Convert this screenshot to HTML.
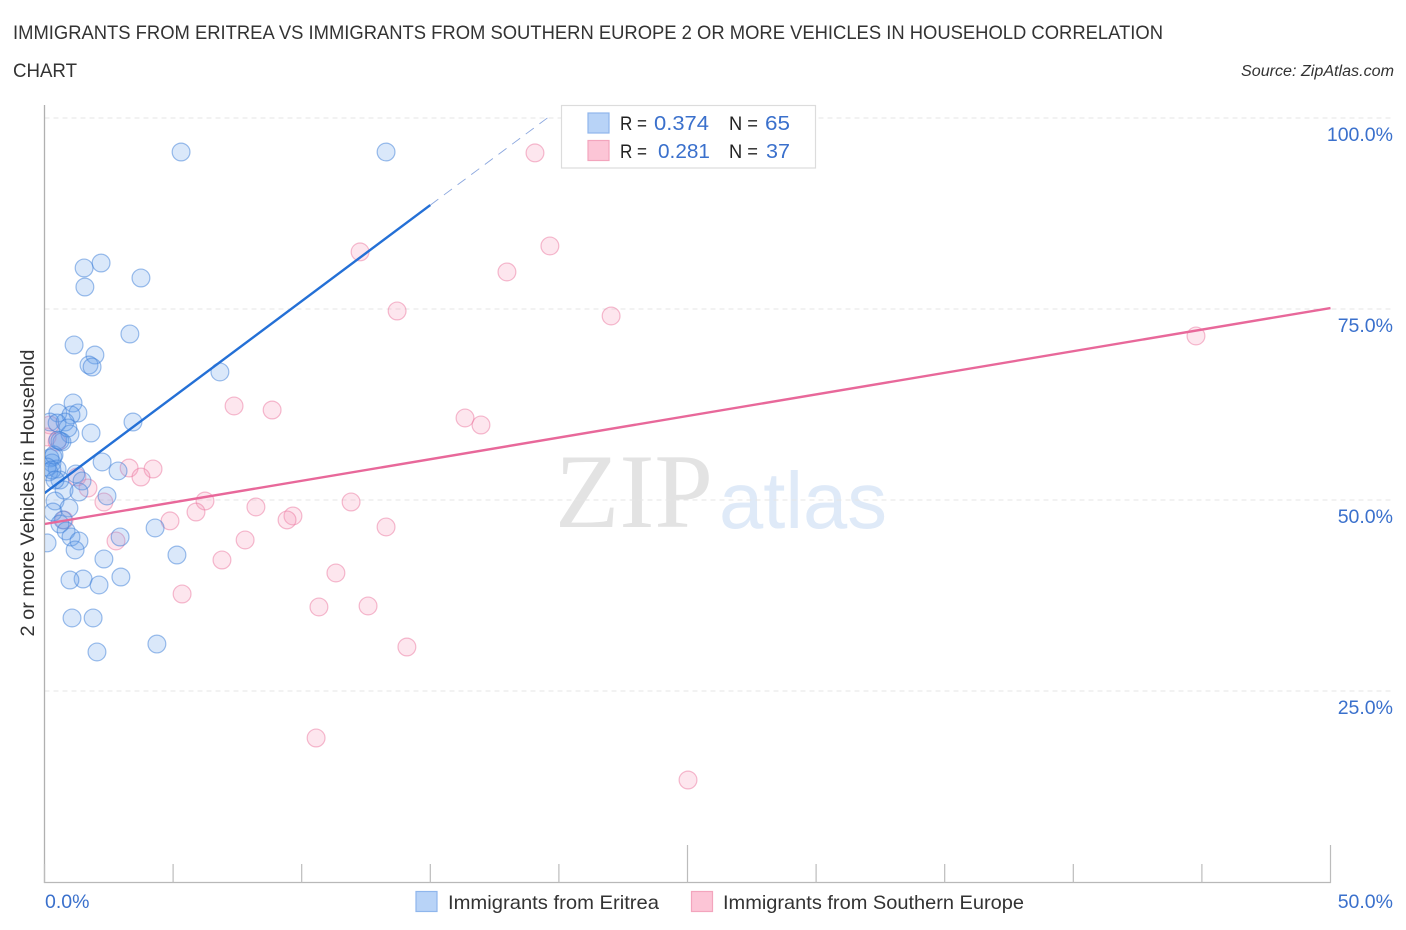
<!DOCTYPE html>
<html lang="en">
<head>
<meta charset="utf-8">
<title>Immigrants from Eritrea vs Immigrants from Southern Europe</title>
<style>
html,body{margin:0;padding:0;background:#fff;width:1406px;height:930px;overflow:hidden}
svg{display:block}
text{font-family:"Liberation Sans",sans-serif}
</style>
</head>
<body>
<svg id="chart" xmlns="http://www.w3.org/2000/svg" width="1406" height="930" viewBox="0 0 1406 930">
  <defs>
    <clipPath id="plot-clip"><rect x="45" y="100" width="1300" height="782"/></clipPath>
  </defs>
  <text x="13" y="39" font-size="19" fill="#333" textLength="1150" lengthAdjust="spacingAndGlyphs">IMMIGRANTS FROM ERITREA VS IMMIGRANTS FROM SOUTHERN EUROPE 2 OR MORE VEHICLES IN HOUSEHOLD CORRELATION</text>
  <text x="13" y="77" font-size="19" fill="#333" textLength="64" lengthAdjust="spacingAndGlyphs">CHART</text>
  <text x="1241" y="76" font-size="15.5" font-style="italic" fill="#333" textLength="153" lengthAdjust="spacingAndGlyphs">Source: ZipAtlas.com</text>

  <g>
    <text x="555" y="527" font-size="106" fill="#e3e3e3" textLength="158" lengthAdjust="spacingAndGlyphs" style="font-family:'Liberation Serif',serif">ZIP</text>
    <text x="719" y="528" font-size="80" fill="#dfeaf8" textLength="168" lengthAdjust="spacingAndGlyphs">atlas</text>
  </g>

  <g id="grid"></g>
  <g id="axes"></g>
  <g clip-path="url(#plot-clip)">
    <g id="pink-points"></g>
    <g id="blue-points"></g>
    <g id="trends"></g>
  </g>

  <text transform="translate(34,493) rotate(-90)" font-size="19.5" fill="#333" text-anchor="middle" textLength="287" lengthAdjust="spacingAndGlyphs">2 or more Vehicles in Household</text>

  <g>
    <rect x="561.5" y="105.5" width="254" height="62.5" fill="#fff" stroke="#dcdcdc" stroke-width="1.2"/>
    <rect x="588" y="113" width="21" height="20" fill="#b8d3f7" stroke="#8fb6ec" stroke-width="1.2"/>
    <rect x="588" y="140.500" width="21" height="20" fill="#fcc5d6" stroke="#f3a5bd" stroke-width="1.2"/>
    <text x="620" y="130" font-size="19.500" fill="#222" textLength="27" lengthAdjust="spacingAndGlyphs">R =</text>
    <text x="654" y="130" font-size="20.500" fill="#3a70cc" textLength="55" lengthAdjust="spacingAndGlyphs">0.374</text>
    <text x="729" y="130" font-size="19.500" fill="#222" textLength="29" lengthAdjust="spacingAndGlyphs">N =</text>
    <text x="765" y="130" font-size="20.500" fill="#3a70cc" textLength="25" lengthAdjust="spacingAndGlyphs">65</text>
    <text x="620" y="158" font-size="19.500" fill="#222" textLength="27" lengthAdjust="spacingAndGlyphs">R =</text>
    <text x="658" y="158" font-size="20.500" fill="#3a70cc" textLength="52" lengthAdjust="spacingAndGlyphs">0.281</text>
    <text x="729" y="158" font-size="19.500" fill="#222" textLength="29" lengthAdjust="spacingAndGlyphs">N =</text>
    <text x="766" y="158" font-size="20.500" fill="#3a70cc" textLength="24" lengthAdjust="spacingAndGlyphs">37</text>
  </g>

  <g>
    <rect x="416" y="891.500" width="21" height="20" fill="#b8d3f7" stroke="#8fb6ec" stroke-width="1.2"/>
    <text x="448" y="909" font-size="19.500" fill="#333" textLength="211" lengthAdjust="spacingAndGlyphs">Immigrants from Eritrea</text>
    <rect x="691.500" y="891.500" width="21" height="20" fill="#fcc5d6" stroke="#f3a5bd" stroke-width="1.2"/>
    <text x="723" y="909" font-size="19.500" fill="#333" textLength="301" lengthAdjust="spacingAndGlyphs">Immigrants from Southern Europe</text>
  </g>
</svg>
<script>
// ---- chart data (x = % on horizontal axis, y = % on vertical axis) ----
const eritreaX = [5.31,13.28,2.20,1.54,3.75,1.57,3.32,1.15,1.96,1.73,1.85,6.82,1.11,0.52,1.30,1.03,0.21,0.80,0.49,3.44,1.81,0.99,0.68,0.52,0.33,0.21,0.29,2.24,2.86,0.49,0.17,1.22,0.60,1.46,0.76,1.34,2.43,0.41,0.95,0.33,0.72,0.60,0.84,1.03,1.34,1.19,0.10,2.94,4.30,5.15,2.31,2.97,1.50,0.99,2.12,1.07,1.89,2.04,4.37,0.37,0.10,0.91,0.60,0.29,0.41];
const eritreaY = [95.55,95.55,81.02,80.37,79.06,77.88,71.73,70.29,68.98,67.67,67.41,66.76,62.70,61.39,61.39,61.13,60.21,60.21,60.08,60.21,58.77,58.64,57.60,57.86,55.63,55.50,54.85,54.98,53.80,54.06,53.67,53.41,52.62,52.49,51.31,51.05,50.53,49.87,48.96,48.43,47.39,46.86,45.95,45.16,44.64,43.46,44.38,45.16,46.34,42.80,42.28,39.92,39.66,39.53,38.88,34.56,34.56,30.11,31.15,55.90,54.32,59.43,57.73,53.93,52.62];
const europeX = [19.07,19.65,12.27,17.98,13.71,22.03,44.77,7.37,8.85,16.35,16.97,0.21,0.10,0.49,3.29,4.22,3.75,1.26,1.69,2.31,6.24,5.89,8.22,11.92,9.66,9.43,4.88,13.28,7.80,2.78,6.90,11.33,5.35,10.67,12.58,14.09,10.56,25.02,0.76];
const europeY = [95.43,83.25,82.47,79.85,74.74,74.09,71.47,62.31,61.78,60.74,59.82,59.82,58.25,57.60,54.19,54.06,53.01,53.01,51.57,49.74,49.87,48.43,49.09,49.74,47.91,47.39,47.26,46.47,44.77,44.64,42.15,40.45,37.70,36.00,36.13,30.76,18.85,13.35,47.39];
const eritreaTrendX = [0,15,19.75];
const eritreaTrendY = [50.9,88.6,100.5];
const europeTrendX = [0,50];
const europeTrendY = [46.86,75.13];
const yTickValues = [100,75,50,25];
const yTickLabels = ["100.0%","75.0%","50.0%","25.0%"];
const xTickValues = [0,5,10,15,20,25,30,35,40,45,50];
const xLongTicks = [25,50];
const xEndLabels = ["0.0%","50.0%"];

// ---- axis functions ----
const sx = v => 44.5 + v * 25.72;
const sy = v => 882 - v * 7.64;
const NS = "http://www.w3.org/2000/svg";
function mk(tag, attrs, parent) {
  const el = document.createElementNS(NS, tag);
  for (const k in attrs) el.setAttribute(k, attrs[k]);
  parent.appendChild(el);
  return el;
}

// gridlines and y labels
const grid = document.getElementById("grid");
yTickValues.forEach((v, i) => {
  const g = mk("line", {x1: 44.5, x2: 1394, y1: sy(v), y2: sy(v), stroke: "#e6e6e6", "stroke-width": 1, "stroke-dasharray": "5 4"}, grid);
  
  
  const t = mk("text", {x: 1393, y: sy(v) + 23, "font-size": 19.5, fill: "#3a70cc", "text-anchor": "end"}, grid);
  
  
  t.textContent = yTickLabels[i];
});

// axes
const axes = document.getElementById("axes");
const yAxis = mk("line", {x1: 44.5, x2: 44.5, y1: 105, y2: 883, stroke: "#b0b0b0", "stroke-width": 1.3}, axes);


const xAxis = mk("line", {x1: 44, x2: 1331, y1: 882.5, y2: 882.5, stroke: "#b8b8b8", "stroke-width": 1.3}, axes);


xTickValues.forEach(v => {
  const top = xLongTicks.includes(v) ? 845 : 864;
  const tk = mk("line", {x1: sx(v), x2: sx(v), y1: top, y2: 883, stroke: "#bcbcbc", "stroke-width": 1.2}, axes);
  
  
});
const xl0 = mk("text", {x: 45, y: 908, "font-size": 19.5, fill: "#3a70cc"}, axes);


xl0.textContent = xEndLabels[0];
const xl1 = mk("text", {x: 1393, y: 908, "font-size": 19.5, fill: "#3a70cc", "text-anchor": "end"}, axes);


xl1.textContent = xEndLabels[1];

// points
const pinkG = document.getElementById("pink-points");
europeX.forEach((x, i) => {
  const c = mk("circle", {cx: sx(x), cy: sy(europeY[i]), r: 8.9, fill: "rgba(247,150,182,0.24)", stroke: "rgba(236,120,160,0.5)", "stroke-width": 1.2}, pinkG);
  
  
});
const blueG = document.getElementById("blue-points");
eritreaX.forEach((x, i) => {
  const c = mk("circle", {cx: sx(x), cy: sy(eritreaY[i]), r: 8.9, fill: "rgba(100,160,235,0.24)", stroke: "rgba(60,125,215,0.5)", "stroke-width": 1.2}, blueG);
  
  
});

// trend lines
const trends = document.getElementById("trends");
const dashTrend = mk("line", {x1: sx(eritreaTrendX[1]), y1: sy(eritreaTrendY[1]), x2: sx(eritreaTrendX[2]), y2: sy(eritreaTrendY[2]), stroke: "#8aa6de", "stroke-width": 0.9, "stroke-dasharray": "10 7"}, trends);


const blueTrend = mk("line", {x1: sx(eritreaTrendX[0]), y1: sy(eritreaTrendY[0]), x2: sx(eritreaTrendX[1]), y2: sy(eritreaTrendY[1]), stroke: "#2470d6", "stroke-width": 2.4}, trends);


const pinkTrend = mk("line", {x1: sx(europeTrendX[0]), y1: sy(europeTrendY[0]), x2: sx(europeTrendX[1]), y2: sy(europeTrendY[1]), stroke: "#e8689a", "stroke-width": 2.4}, trends);


</script>
</body>
</html>
